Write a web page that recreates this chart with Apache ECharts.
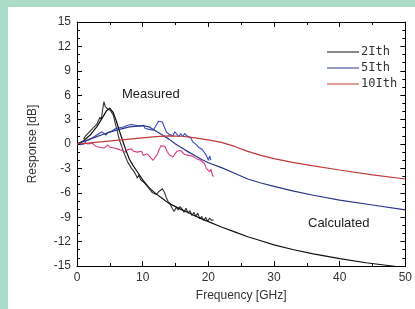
<!DOCTYPE html>
<html>
<head>
<meta charset="utf-8">
<script src="https://cdn.jsdelivr.net/npm/echarts@6/dist/echarts.min.js"></script>
<style>
  html, body { margin: 0; padding: 0; background: #acdcc9; }
  #wrap { position: absolute; left: 8px; top: 7px; width: 407px; height: 302px; background: #fff; }
  #chart { width: 407px; height: 302px; }
</style>
</head>
<body>
<div id="wrap"><div id="chart"></div></div>
<script>
// 测量数据 [GHz, dB]
const measured2Ith = [
  [1.0, 0.6], [1.3, 1.0], [1.6, 0.9], [1.9, 1.5], [2.2, 1.4], [2.5, 2.0], [2.8, 1.9], [3.0, 2.4],
  [3.3, 2.6], [3.5, 3.3], [3.7, 3.0], [3.9, 4.2], [4.1, 5.2], [4.3, 4.6], [4.5, 4.5], [4.7, 4.3],
  [4.9, 4.4], [5.1, 4.1], [5.3, 4.2], [5.5, 3.6], [5.7, 3.0], [5.9, 2.3], [6.1, 1.7], [6.3, 1.0],
  [6.5, 0.4], [6.8, -0.3], [7.1, -1.0], [7.4, -1.6], [7.7, -2.2], [8.0, -2.6], [8.3, -3.0], [8.6, -3.3],
  [8.9, -3.7], [9.2, -4.2], [9.4, -3.8], [9.7, -4.4], [10.0, -4.6], [10.3, -4.8], [10.6, -5.1], [10.9, -5.4],
  [11.2, -5.7], [11.5, -6.0], [11.8, -5.8], [12.1, -6.2], [12.4, -5.9], [12.7, -5.7], [13.0, -5.5], [13.3, -5.9],
  [13.6, -6.6], [13.9, -7.1], [14.2, -7.4], [14.5, -7.9], [14.8, -8.3], [15.1, -7.8], [15.4, -8.1], [15.7, -7.7],
  [16.0, -8.0], [16.3, -8.4], [16.6, -7.9], [16.9, -8.5], [17.2, -8.2], [17.5, -8.8], [17.8, -8.4], [18.1, -8.9],
  [18.4, -8.5], [18.7, -9.2], [19.0, -8.9], [19.3, -9.4], [19.6, -9.0], [19.9, -9.5], [20.2, -9.1], [20.5, -9.4],
  [20.8, -9.3]
];
const measured5Ith = [
  [0.5, -0.1], [0.8, 0.1], [1.1, 0.0], [1.4, 0.4], [1.7, 0.3], [2.0, 0.6], [2.3, 0.5], [2.6, 0.9],
  [2.9, 0.8], [3.2, 1.2], [3.5, 1.0], [3.8, 1.5], [4.1, 1.3], [4.4, 1.1], [4.7, 1.4], [5.0, 1.2],
  [5.3, 1.6], [5.6, 1.5], [5.9, 1.9], [6.2, 1.7], [6.5, 2.0], [6.8, 1.8], [7.1, 2.1], [7.4, 2.0],
  [7.7, 2.3], [8.0, 2.2], [8.3, 2.4], [8.6, 2.6], [8.9, 2.3], [9.2, 2.5], [9.5, 2.2], [9.8, 2.1],
  [10.1, 2.3], [10.4, 1.9], [10.7, 2.0], [11.0, 1.8], [11.3, 1.9], [11.6, 1.7], [11.9, 2.1], [12.2, 2.5],
  [12.4, 2.8], [12.7, 2.6], [13.0, 2.7], [13.3, 2.1], [13.6, 1.5], [14.0, 1.2], [14.3, 1.4], [14.6, 1.0],
  [14.9, 1.5], [15.2, 1.2], [15.5, 0.9], [15.8, 1.3], [16.1, 0.9], [16.4, 1.3], [16.7, 1.0], [17.0, 1.1],
  [17.3, 0.8], [17.6, 0.3], [17.9, 0.1], [18.2, -0.1], [18.5, -0.4], [18.8, -0.2], [19.1, -0.7], [19.4, -0.9],
  [19.7, -1.4], [20.0, -2.0], [20.2, -1.5], [20.4, -2.0]
];
const measured10Ith = [
  [0.5, 0.0], [0.8, -0.1], [1.1, 0.1], [1.4, -0.1], [1.7, 0.0], [2.0, -0.2], [2.3, 0.1], [2.6, -0.1],
  [2.9, -0.3], [3.2, -0.1], [3.5, -0.4], [3.8, -0.2], [4.1, -0.5], [4.4, -0.3], [4.7, -0.1], [5.0, -0.4],
  [5.3, -0.2], [5.6, -0.5], [5.9, -0.3], [6.2, -0.6], [6.5, -0.4], [6.8, -0.8], [7.1, -0.6], [7.4, -1.0],
  [7.7, -0.7], [8.0, -0.8], [8.3, -0.6], [8.6, -0.9], [8.9, -0.7], [9.2, -1.0], [9.5, -1.2], [9.8, -0.9],
  [10.1, -1.4], [10.4, -1.3], [10.7, -1.2], [11.0, -1.5], [11.3, -1.7], [11.6, -2.0], [11.9, -1.8], [12.2, -1.3],
  [12.5, -0.7], [12.8, -0.2], [13.1, -0.1], [13.4, -0.3], [13.7, -0.9], [14.0, -1.3], [14.3, -1.5], [14.6, -1.6],
  [14.9, -1.4], [15.2, -0.9], [15.5, -1.0], [15.8, -0.8], [16.1, -1.0], [16.4, -1.3], [16.7, -1.2], [17.0, -1.4],
  [17.3, -1.2], [17.6, -1.5], [17.9, -1.4], [18.2, -1.8], [18.5, -1.6], [18.8, -2.0], [19.1, -2.2], [19.4, -2.4],
  [19.7, -3.0], [20.0, -2.8], [20.2, -3.4], [20.4, -3.1], [20.6, -3.8], [20.8, -4.0]
];
// 计算数据
const calc2Ith = [
  [0, 0], [1, 0.4], [2, 1.1], [3, 2.1], [4, 3.4], [4.5, 4.1], [5, 4.4], [5.5, 3.9], [6, 2.8],
  [6.5, 1.5], [7, 0.3], [7.5, -0.9], [8, -1.9], [8.5, -2.6], [9, -3.2], [10, -4.4], [11, -5.4],
  [12, -6.1], [13, -6.7], [14, -7.3], [15, -7.7], [16, -8.1], [17, -8.45], [18, -8.85], [19, -9.2],
  [20, -9.55], [22, -10.2], [24, -10.8], [26, -11.4], [28, -11.9], [30, -12.4], [33, -13.0],
  [36, -13.5], [40, -14.1], [44, -14.6], [48, -15.0], [50, -15.2]
];
const calc5Ith = [
  [0, 0], [2, 0.6], [4, 1.2], [6, 1.7], [8, 2.1], [10, 2.25], [11, 2.1], [12, 1.6], [13, 1.1],
  [14, 0.6], [15, 0.0], [16, -0.5], [17, -1.0], [18, -1.45], [19, -1.9], [20, -2.3], [22, -2.9],
  [24, -3.6], [26, -4.3], [28, -4.8], [30, -5.2], [33, -5.8], [36, -6.3], [40, -6.9], [45, -7.5], [50, -8.1]
];
const calc10Ith = [
  [0, 0], [2, 0.15], [4, 0.3], [6, 0.45], [8, 0.6], [10, 0.75], [12, 0.9], [14, 1.0], [16, 0.95],
  [18, 0.75], [20, 0.5], [22, 0.2], [24, -0.3], [26, -0.9], [28, -1.4], [30, -1.8], [33, -2.3],
  [36, -2.7], [40, -3.2], [45, -3.8], [50, -4.3]
];
const legendNames = ['2Ith', '5Ith', '10Ith'];

let chart = echarts.init(document.getElementById('chart'));
let font = 'Liberation Sans, Arial, sans-serif';

function line(name, data, color, width) {
  return {
    type: 'line',
    name: name,
    data: data,
    showSymbol: false,
    lineStyle: { color: color, width: width },
    itemStyle: { color: color },
    animation: false,
  };
}

// 坐标轴：刻度朝内，四边闭合
function axis(type, extra) {
  let a = {
    type: 'value',
    axisLine: { show: true, onZero: false, lineStyle: { color: '#000', width: 1 } },
    axisTick: { show: true, inside: true, length: 5, lineStyle: { color: '#000', width: 1 } },
    splitLine: { show: false },
  };
  if (type == 'x') {
    a.min = 0; a.max = 50; a.interval = 10;
    a.minorTick = { show: true, splitNumber: 2, length: 3, lineStyle: { color: '#000', width: 1 } };
  } else {
    a.min = -15; a.max = 15; a.interval = 3;
    a.minorTick = { show: true, splitNumber: 3, length: 3, lineStyle: { color: '#000', width: 1 } };
  }
  return Object.assign(a, extra);
}

let option = {
  backgroundColor: '#fff',
  grid: { left: 69, right: 9, top: 15, bottom: 43 },
  legend: {
    data: legendNames,
    orient: 'vertical',
    left: 314,
    top: 34,
    icon: 'rect',
    itemWidth: 32,
    itemHeight: 1,
    itemGap: 4,
    textStyle: { fontFamily: 'DejaVu Sans Mono, monospace', fontSize: 12, color: '#333', padding: [0, 0, 0, -3] },
  },
  xAxis: [
    axis('x', {
      name: 'Frequency [GHz]', nameLocation: 'middle', nameGap: 24,
      nameTextStyle: { fontFamily: font, fontSize: 12, color: '#333' },
      axisLabel: { fontFamily: font, fontSize: 12, color: '#333', margin: 6 },
    }),
    axis('x', { position: 'top', axisLabel: { show: false } }),
  ],
  yAxis: [
    axis('y', {
      name: 'Response [dB]', nameLocation: 'middle', nameGap: 38,
      nameTextStyle: { fontFamily: font, fontSize: 12, color: '#333' },
      axisLabel: { fontFamily: font, fontSize: 12, color: '#333', margin: 6 },
    }),
    axis('y', { position: 'right', axisLabel: { show: false } }),
  ],
  graphic: [
    { type: 'text', left: 114, top: 81, style: { text: 'Measured', font: '13px Liberation Sans, Arial', fill: '#222' } },
    { type: 'text', left: 300, top: 210, style: { text: 'Calculated', font: '13px Liberation Sans, Arial', fill: '#222' } },
  ],
  series: [
    line('2Ith-m', measured2Ith, '#333', 1.1),
    line('5Ith-m', measured5Ith, '#3546c0', 1.1),
    line('10Ith-m', measured10Ith, '#d83b7d', 1.1),
    line('2Ith', calc2Ith, '#111', 1.2),
    line('5Ith', calc5Ith, '#2b3688', 1.2),
    line('10Ith', calc10Ith, '#c03a3a', 1.2),
  ],
};
chart.setOption(option);
</script>
</body>
</html>
